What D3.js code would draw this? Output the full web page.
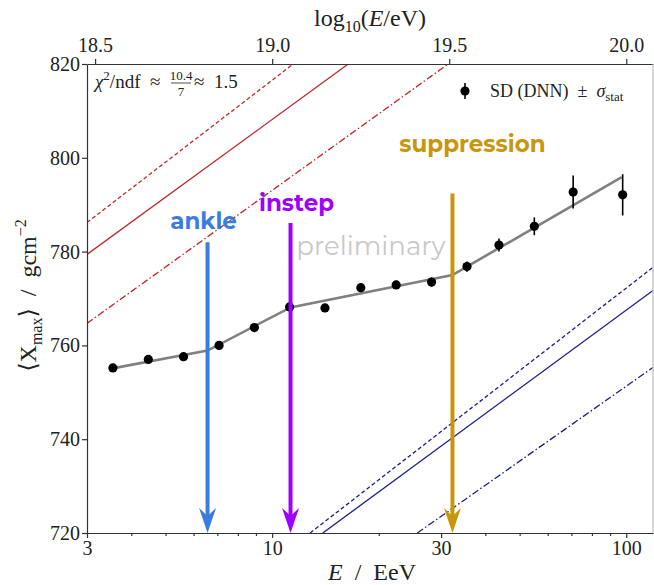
<!DOCTYPE html>
<html>
<head>
<meta charset="utf-8">
<script src="https://cdn.jsdelivr.net/npm/d3@7"></script>
<style>
  body { margin: 0; background: #fff; }
  svg { display: block; }
  .axis text { font-family: "Liberation Serif", "DejaVu Serif", serif; font-size: 20px; fill: #222; }
  .axis path, .axis line { stroke: #333; stroke-width: 1.2; }
</style>
</head>
<body>
<div id="chart-area"></div>
<script>
// data
var energies = [3.55, 4.47, 5.62, 7.08, 8.91, 11.2, 14.1, 17.8, 22.4, 28.2, 35.5, 43.7, 55.0, 70.8, 97.7]; // EeV
var xmaxValues = [755.2, 757.0, 757.6, 760.0, 763.8, 768.2, 768.0, 772.3, 772.9, 773.5, 776.8, 781.4, 785.4, 792.7, 792.1];
var xmaxErrors = [0.3, 0.3, 0.4, 0.4, 0.5, 0.6, 0.7, 0.8, 0.9, 1.0, 1.1, 1.4, 1.9, 3.5, 4.4];

// broken-line fit
var fitEnergies = [3.48, 6.57, 11.27, 32.3, 97.1];
var fitXmax = [755.0, 758.9, 768.1, 775.0, 795.9];

// model lines (two end points each)
var modelNames = ["pSolid", "pDashed", "pDashDot", "feSolid", "feDashed", "feDashDot"];
var modelE = [[3, 16.4], [3, 11.47], [3, 31.4], [13.9, 119], [12.8, 119], [25.7, 119]];
var modelX = [[779.4, 820], [786.2, 820], [764.7, 820], [720, 771.7], [720, 776.65], [720, 755.3]];

// break features
var featureNames = ["ankle", "instep", "suppression"];
var featureE = [6.57, 11.27, 32.3];
var featureTop = [782.0, 786.1, 792.4];

var bottomTicks = [3, 10, 30, 100];
var bottomMinor = [4, 5, 6, 7, 8, 9, 20, 40, 50, 60, 70, 80, 90];
var topTicks = [18.5, 19.0, 19.5, 20.0];
var yTicks = [720, 740, 760, 780, 800, 820];

var W = 654, H = 585;
var pL = 87, pR = 653, pT = 64, pB = 533;

var svg = d3.select("#chart-area").append("svg")
  .attr("width", W).attr("height", H);

var x = d3.scaleLog().domain([3, 119]).range([pL, pR]);
var xTop = d3.scaleLinear().domain([Math.log10(3e18), Math.log10(119e18)]).range([pL, pR]);
var y = d3.scaleLinear().domain([720, 820]).range([pB, pT]);

svg.append("defs").append("clipPath").attr("id", "clip")
  .append("rect").attr("x", pL).attr("y", pT)
  .attr("width", pR - pL).attr("height", pB - pT);

// model lines
var modelColors = ["#c0292b", "#c0292b", "#c0292b", "#1c1c8a", "#1c1c8a", "#1c1c8a"];
var modelDash = [null, "4,2.5", "7,2.5,1.5,2.5", null, "4,2.5", "7,2.5,1.5,2.5"];
var line = d3.line().x(d => x(d[0])).y(d => y(d[1]));
var gModels = svg.append("g").attr("clip-path", "url(#clip)");
modelNames.forEach(function(name, i) {
  gModels.append("path")
    .attr("class", name)
    .attr("d", line(d3.zip(modelE[i], modelX[i])))
    .attr("fill", "none")
    .attr("stroke", modelColors[i])
    .attr("stroke-width", 1.3)
    .attr("stroke-dasharray", modelDash[i]);
});

// fit line
svg.append("path")
  .attr("d", line(d3.zip(fitEnergies, fitXmax)))
  .attr("fill", "none").attr("stroke", "#808080").attr("stroke-width", 2.6);

// preliminary
svg.append("text")
  .attr("x", 371).attr("y", 255)
  .attr("text-anchor", "middle")
  .attr("font-family", "Montserrat, 'Open Sans', sans-serif")
  .attr("font-size", 26)
  .attr("fill", "#c8c8c8")
  .text("preliminary");

// data points
var pts = d3.zip(energies, xmaxValues, xmaxErrors);
var gPts = svg.append("g");
gPts.selectAll("line").data(pts).enter().append("line")
  .attr("x1", d => x(d[0])).attr("x2", d => x(d[0]))
  .attr("y1", d => y(d[1] - d[2])).attr("y2", d => y(d[1] + d[2]))
  .attr("stroke", "#000").attr("stroke-width", 1.6);
gPts.selectAll("circle").data(pts).enter().append("circle")
  .attr("cx", d => x(d[0])).attr("cy", d => y(d[1]))
  .attr("r", 4.6).attr("fill", "#000");

// arrows
var featureColors = ["#3b7ddd", "#9d00ff", "#c8960c"];
var labelDx = [-4, 6, 20];
var labelDy = [-13, -12, -41];
featureNames.forEach(function(name, i) {
  var ax = x(featureE[i]);
  var yt = y(featureTop[i]), yb = y(720);
  svg.append("line")
    .attr("x1", ax).attr("x2", ax).attr("y1", yt).attr("y2", yb - 14)
    .attr("stroke", featureColors[i]).attr("stroke-width", 4);
  svg.append("path")
    .attr("d", "M" + ax + "," + yb + "L" + (ax - 8.5) + "," + (yb - 25) +
      "L" + ax + "," + (yb - 17) + "L" + (ax + 8.5) + "," + (yb - 25) + "Z")
    .attr("fill", featureColors[i]);
  svg.append("text")
    .attr("x", ax + labelDx[i]).attr("y", yt + labelDy[i])
    .attr("text-anchor", "middle")
    .attr("font-family", "Montserrat, 'Open Sans', sans-serif")
    .attr("font-weight", 700)
    .attr("font-size", 23)
    .attr("fill", featureColors[i])
    .text(name);
});

// axes
svg.append("g").attr("class", "axis")
  .attr("transform", "translate(0," + pB + ")")
  .call(d3.axisBottom(x).tickValues(bottomTicks).tickFormat(d3.format("d")).tickSize(5).tickSizeOuter(0).tickPadding(3));
svg.append("g").attr("class", "axis")
  .attr("transform", "translate(0," + pB + ")")
  .call(d3.axisBottom(x).tickValues(bottomMinor).tickFormat("").tickSize(3))
  .select(".domain").remove();
svg.append("g").attr("class", "axis")
  .attr("transform", "translate(0," + pT + ")")
  .call(d3.axisTop(xTop).tickValues(topTicks).tickFormat(d3.format(".1f")).tickSize(5).tickSizeOuter(0).tickPadding(7));
svg.append("g").attr("class", "axis")
  .attr("transform", "translate(" + pL + ",0)")
  .call(d3.axisLeft(y).tickValues(yTicks).tickSize(5).tickSizeOuter(0).tickPadding(2));
svg.append("line")
  .attr("x1", pR).attr("x2", pR).attr("y1", pT).attr("y2", pB)
  .attr("stroke", "#bbb").attr("stroke-width", 1.2);

var serif = "'Liberation Serif', 'DejaVu Serif', serif";
// axis labels
var xl = svg.append("text").attr("x", 372).attr("y", 580).attr("text-anchor", "middle")
  .attr("font-family", serif).attr("font-size", 24).attr("fill", "#222");
xl.append("tspan").attr("font-style", "italic").text("E");
xl.append("tspan").text("\u2002/\u2002EeV");

var tl = svg.append("text").attr("x", 370).attr("y", 26).attr("text-anchor", "middle")
  .attr("font-family", serif).attr("font-size", 24).attr("fill", "#222");
tl.append("tspan").text("log");
tl.append("tspan").attr("font-size", 16).attr("dy", 6).text("10");
tl.append("tspan").attr("dy", -6).text("(");
tl.append("tspan").attr("font-style", "italic").text("E");
tl.append("tspan").text("/eV)");

var yl = svg.append("text").attr("transform", "translate(36," + ((pT + pB) / 2 - 3) + ") rotate(-90)")
  .attr("text-anchor", "middle")
  .attr("font-family", serif).attr("font-size", 24).attr("fill", "#222");
yl.append("tspan").text("\u27E8X");
yl.append("tspan").attr("font-size", 16).attr("dy", 6).text("max");
yl.append("tspan").attr("dy", -6).text("\u27E9\u2002/\u2002gcm");
yl.append("tspan").attr("font-size", 16).attr("dy", -10).text("\u22122");

// chi2 annotation
var c1 = svg.append("text").attr("x", 95).attr("y", 88)
  .attr("font-family", serif).attr("font-size", 19).attr("fill", "#222");
c1.append("tspan").attr("font-style", "italic").text("\u03C7");
c1.append("tspan").attr("font-size", 13).attr("dy", -8).text("2");
c1.append("tspan").attr("dy", 8).text("/ndf\u2002\u2248");
svg.append("text").attr("x", 181).attr("y", 80).attr("text-anchor", "middle")
  .attr("font-family", serif).attr("font-size", 13).attr("fill", "#222").text("10.4");
svg.append("line").attr("x1", 171).attr("x2", 191).attr("y1", 83).attr("y2", 83)
  .attr("stroke", "#222").attr("stroke-width", 0.8);
svg.append("text").attr("x", 181).attr("y", 96).attr("text-anchor", "middle")
  .attr("font-family", serif).attr("font-size", 13).attr("fill", "#222").text("7");
svg.append("text").attr("x", 194).attr("y", 88)
  .attr("font-family", serif).attr("font-size", 19).attr("fill", "#222").text("\u2248\u20021.5");

// legend
svg.append("line").attr("x1", 465).attr("x2", 465).attr("y1", 83).attr("y2", 99)
  .attr("stroke", "#000").attr("stroke-width", 1.6);
svg.append("circle").attr("cx", 465).attr("cy", 91).attr("r", 4.6).attr("fill", "#000");
var lg = svg.append("text").attr("x", 490).attr("y", 97)
  .attr("font-family", serif).attr("font-size", 18).attr("fill", "#222");
lg.append("tspan").text("SD (DNN)\u2002\u00B1\u2002");
lg.append("tspan").attr("font-style", "italic").text("\u03C3");
lg.append("tspan").attr("font-size", 13).attr("dy", 4).text("stat");
</script>
</body>
</html>
